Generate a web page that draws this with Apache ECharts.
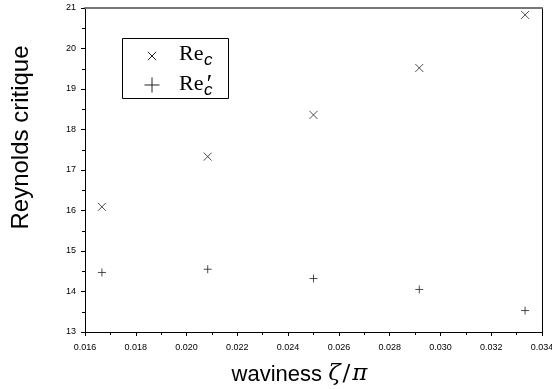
<!DOCTYPE html>
<html>
<head>
<meta charset="utf-8">
<script src="https://cdn.jsdelivr.net/npm/echarts@6/dist/echarts.min.js"></script>
<style>html,body{margin:0;padding:0;background:#fff}#c{width:552px;height:389px}</style>
</head>
<body>
<div id="c"></div>
<script>
// data
var waviness = [0.016667, 0.020833, 0.025, 0.029167, 0.033333];
var reC = [16.09, 17.33, 18.36, 19.52, 20.83];
var reCPrime = [14.47, 14.55, 14.32, 14.05, 13.53];
var xTicks = [0.016, 0.018, 0.020, 0.022, 0.024, 0.026, 0.028, 0.030, 0.032, 0.034];
var yTicks = [13, 14, 15, 16, 17, 18, 19, 20, 21];

var crossPath = 'path://M0,0L10,10M10,0L0,10';
var plusPath = 'path://M5,0L5,10M0,5L10,5';

function pairs(xs, ys) { return xs.map(function (x, i) { return [x, ys[i]]; }); }

var SANS = 'Liberation Sans, Arial, sans-serif';
var SERIF = 'Liberation Serif, Times New Roman, serif';
var MATH = 'DejaVu Serif, Liberation Serif, serif';
var ink = '#222';

var chart = echarts.init(document.getElementById('c'));
var axisCommon = {
  axisLine: { show: true, onZero: false, lineStyle: { color: '#000', width: 1 } },
  splitLine: { show: false },
  axisLabel: { color: '#000', fontSize: 9, fontFamily: SANS },
  axisTick: { show: true, inside: false, length: 4, lineStyle: { color: '#000' } },
  minorTick: { show: true, splitNumber: 2, length: 3, lineStyle: { color: '#000' } }
};

// legend drawn as graphic (box, symbols, math-style labels)
var lx = 152, ly1 = 56, ly2 = 85, cs = 4.2, ps = 7.5;
var legendGraphic = [
  { type: 'rect', shape: { x: 122.5, y: 38.5, width: 106, height: 60 }, style: { fill: '#fff', stroke: '#000', lineWidth: 1 }, z: 100 },
  { type: 'line', shape: { x1: lx - cs, y1: ly1 - cs, x2: lx + cs, y2: ly1 + cs }, style: { stroke: ink, lineWidth: 1 }, z: 101 },
  { type: 'line', shape: { x1: lx - cs, y1: ly1 + cs, x2: lx + cs, y2: ly1 - cs }, style: { stroke: ink, lineWidth: 1 }, z: 101 },
  { type: 'line', shape: { x1: lx - ps, y1: ly2, x2: lx + ps, y2: ly2 }, style: { stroke: ink, lineWidth: 1 }, z: 101 },
  { type: 'line', shape: { x1: lx, y1: ly2 - ps, x2: lx, y2: ly2 + ps }, style: { stroke: ink, lineWidth: 1 }, z: 101 },
  { type: 'text', x: 179, y: 54.5, style: { text: 'Re', font: '22px ' + SERIF, fill: '#000', verticalAlign: 'middle', align: 'left' }, z: 101 },
  { type: 'text', x: 204, y: 60.5, style: { text: 'c', font: 'italic 17px ' + SANS, fill: '#000', verticalAlign: 'middle', align: 'left' }, z: 101 },
  { type: 'text', x: 179, y: 84, style: { text: 'Re', font: '22px ' + SERIF, fill: '#000', verticalAlign: 'middle', align: 'left' }, z: 101 },
  { type: 'text', x: 204, y: 90, style: { text: 'c', font: 'italic 17px ' + SANS, fill: '#000', verticalAlign: 'middle', align: 'left' }, z: 101 },
  { type: 'text', x: 205, y: 72, style: { text: '′', font: 'italic 26px Liberation Serif', fill: '#000', verticalAlign: 'top', align: 'left' }, z: 101 }
];

chart.setOption({
  animation: false,
  grid: { left: 85, right: 10, top: 8, bottom: 57, show: false, containLabel: false, outerBoundsMode: 'none' },
  graphic: legendGraphic,
  xAxis: [Object.assign({}, axisCommon, {
    type: 'value', min: 0.016, max: 0.034, interval: 0.002, position: 'bottom',
    axisLabel: Object.assign({}, axisCommon.axisLabel, {
      margin: 11,
      formatter: function (v) { return v.toFixed(3); }
    }),
    name: '{a|waviness }{b|ζ}{c|/}{b|π}',
    nameLocation: 'middle', nameGap: 31,
    nameTextStyle: {
      padding: [0, 28, 0, 0],
      rich: {
        a: { fontFamily: SANS, fontSize: 22, color: '#000' },
        b: { fontFamily: MATH, fontStyle: 'italic', fontSize: 23, color: '#000' },
        c: { fontFamily: MATH, fontSize: 23, color: '#000', padding: [0, 2, 0, 2] }
      }
    }
  }), {
    type: 'value', min: 0.016, max: 0.034, position: 'top',
    axisLine: { show: true, lineStyle: { color: '#777', width: 2 } },
    axisTick: { show: false }, axisLabel: { show: false }, splitLine: { show: false }
  }],
  yAxis: [Object.assign({}, axisCommon, {
    type: 'value', min: 13, max: 21, interval: 1, position: 'left',
    axisLabel: Object.assign({}, axisCommon.axisLabel, { margin: 9 }),
    name: 'Reynolds critique',
    nameLocation: 'middle', nameGap: 52,
    nameTextStyle: { fontFamily: SANS, fontSize: 24, color: '#000', padding: [0, 0, 0, 65] }
  }), {
    type: 'value', min: 13, max: 21, position: 'right',
    axisLine: { show: true, lineStyle: { color: '#000', width: 1 } },
    axisTick: { show: false }, axisLabel: { show: false }, splitLine: { show: false }
  }],
  series: [{
    name: 'Rec', type: 'scatter', xAxisIndex: 0, yAxisIndex: 0,
    symbol: crossPath, symbolSize: 8,
    itemStyle: { color: 'rgba(0,0,0,0)', borderColor: ink, borderWidth: 1 },
    data: pairs(waviness, reC)
  }, {
    name: 'Rec2', type: 'scatter', xAxisIndex: 0, yAxisIndex: 0,
    symbol: plusPath, symbolSize: 8,
    itemStyle: { color: 'rgba(0,0,0,0)', borderColor: ink, borderWidth: 1 },
    data: pairs(waviness, reCPrime)
  }]
});
</script>
</body>
</html>
